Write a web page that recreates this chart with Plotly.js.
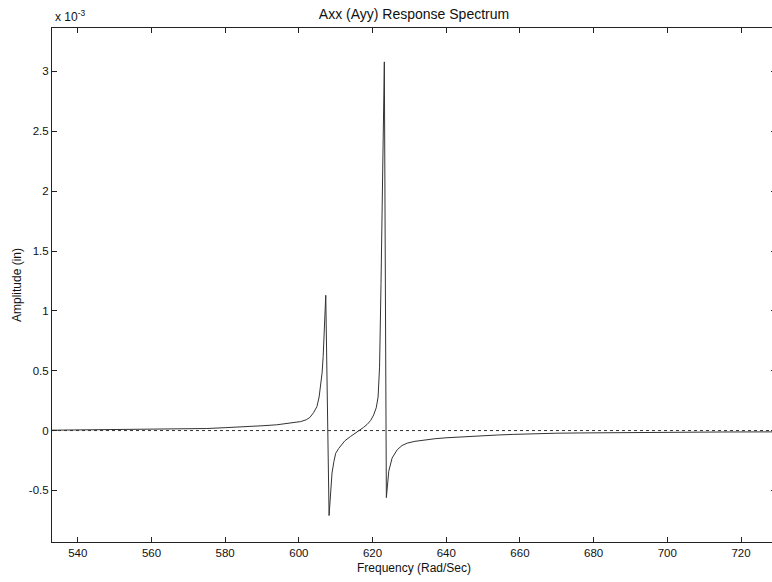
<!DOCTYPE html>
<html>
<head>
<meta charset="utf-8">
<script src="https://cdn.plot.ly/plotly-3.0.1.min.js"></script>
<style>
html, body { margin: 0; padding: 0; overflow: hidden; background: #fff; }
#chart { width: 776px; height: 582px; }
</style>
</head>
<body>
<div id="chart"></div>
<script>
// Frequency (Rad/Sec)
const freq = [533, 540, 550, 560, 570, 575, 580, 585, 590, 594, 597, 599, 600.5, 602, 603, 604,
  604.9, 605.5, 605.9, 606.3, 606.6, 606.9, 607.3, 608.2, 608.6, 609.0, 609.5, 610, 610.8, 611.3,
  612.5, 614, 615, 616.2, 617.5, 618.5, 619.5, 620.3, 621, 621.5, 621.9, 622.3, 622.75, 623.2,
  623.75, 624.1, 624.4, 625.3, 626.7, 628, 629.4, 631.5, 633.9, 637, 640.2, 645, 649.3, 654,
  658.3, 664.7, 670, 676.4, 685, 695, 705, 715, 729.5];
// Amplitude (in), in units of 1e-3
const ampE3 = [0.003, 0.005, 0.007, 0.009, 0.013, 0.017, 0.024, 0.030, 0.040, 0.048, 0.058, 0.066, 0.075, 0.09, 0.11, 0.15,
  0.2, 0.28, 0.36, 0.48, 0.62, 0.84, 1.13, -0.71, -0.50, -0.355, -0.26, -0.19, -0.15, -0.13,
  -0.085, -0.05, -0.03, 0.0, 0.025, 0.05, 0.085, 0.13, 0.19, 0.28, 0.53, 1.23, 2.34, 3.08,
  -0.56, -0.42, -0.34, -0.23, -0.16, -0.125, -0.105, -0.09, -0.08, -0.068, -0.06, -0.05, -0.043, -0.037,
  -0.032, -0.025, -0.022, -0.02, -0.017, -0.015, -0.013, -0.012, -0.011];
const xTicks = [540, 560, 580, 600, 620, 640, 660, 680, 700, 720];
const yTicks = [-0.5, 0, 0.5, 1, 1.5, 2, 2.5, 3];
const yTickText = ['-0.5', '0', '0.5', '1', '1.5', '2', '2.5', '3'];

const font = 'Liberation Sans, Arial, Helvetica, sans-serif';
const axisCol = '#222';

const trace = {
  x: freq, y: ampE3, type: 'scatter', mode: 'lines',
  line: { color: '#333', width: 1 }, hoverinfo: 'skip'
};

const layout = {
  width: 776, height: 582,
  margin: { l: 52, r: 0, t: 28, b: 40 },
  paper_bgcolor: '#fff', plot_bgcolor: '#fff',
  showlegend: false,
  font: { family: font, color: '#111', size: 11 },
  title: { text: 'Axx (Ayy) Response Spectrum', font: { family: font, size: 14, color: '#111' },
           x: 0.5, xref: 'paper', xanchor: 'center', y: 0.976, yanchor: 'middle' },
  xaxis: {
    range: [533, 729.5], tickvals: xTicks, ticktext: xTicks.map(String),
    ticks: 'inside', ticklen: 5, tickcolor: axisCol, tickwidth: 1,
    showline: true, linecolor: axisCol, linewidth: 1, mirror: 'ticks',
    showgrid: false, zeroline: false,
    tickfont: { family: font, size: 11.5, color: '#111' },
    title: { text: 'Frequency (Rad/Sec)', font: { family: font, size: 12, color: '#111' }, standoff: 5 }
  },
  yaxis: {
    range: [-0.931, 3.363], tickvals: yTicks, ticktext: yTickText,
    ticks: 'inside', ticklen: 5, tickcolor: axisCol, tickwidth: 1,
    showline: true, linecolor: axisCol, linewidth: 1, mirror: 'ticks',
    showgrid: false, zeroline: false,
    tickfont: { family: font, size: 11.5, color: '#111' },
    title: { text: 'Amplitude (in)', font: { family: font, size: 12, color: '#111' }, standoff: 4 }
  },
  shapes: [{
    type: 'line', xref: 'paper', x0: 0, x1: 1, yref: 'y', y0: 0, y1: 0,
    line: { color: '#333', width: 1, dash: 'dot' }, layer: 'below'
  }],
  annotations: [{
    text: 'x 10<sup>-3</sup>', xref: 'paper', yref: 'paper', x: 0, y: 1,
    xanchor: 'left', yanchor: 'bottom', xshift: 1, yshift: 2, showarrow: false,
    font: { family: font, size: 12, color: '#111' }
  }]
};

Plotly.newPlot('chart', [trace], layout, { displayModeBar: false, staticPlot: true });
</script>
</body>
</html>
